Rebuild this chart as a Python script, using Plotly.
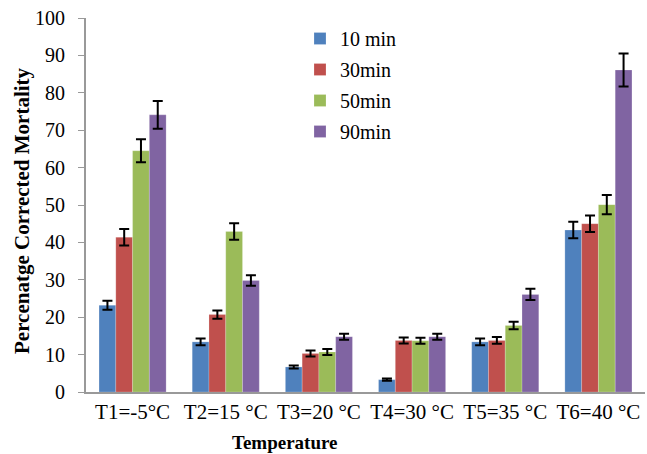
import plotly.graph_objects as go

categories = ["T1=-5°C", "T2=15 °C", "T3=20 °C", "T4=30 °C", "T5=35 °C", "T6=40 °C"]
series_names = ["10 min", "30min", "50min", "90min"]
colors = ["#4F81BD", "#C0504D", "#9BBB59", "#8064A2"]

v10 = [23.2, 13.4, 6.7, 3.3, 13.4, 43.3]
v30 = [41.4, 20.7, 10.3, 13.8, 13.8, 45.0]
v50 = [64.5, 42.9, 10.7, 13.7, 17.8, 50.1]
v90 = [74.1, 29.8, 14.8, 14.8, 26.1, 86.1]

e10 = [1.2, 0.9, 0.4, 0.3, 0.9, 2.2]
e30 = [2.2, 1.1, 0.8, 0.8, 0.9, 2.2]
e50 = [3.1, 2.2, 0.8, 0.8, 1.0, 2.6]
e90 = [3.7, 1.4, 0.8, 0.8, 1.5, 4.4]

values = [v10, v30, v50, v90]
errors = [e10, e30, e50, e90]

fig = go.Figure()
for i, name in enumerate(series_names):
    fig.add_trace(go.Bar(
        x=categories, y=values[i], name=name,
        marker=dict(color=colors[i], line=dict(color="rgba(255,255,255,0.4)", width=0.5)),
        error_y=dict(type="data", array=errors[i], color="black", thickness=2, width=5),
        legendgroup=name,
    ))

serif = "Liberation Serif"
L, R, T, B = 86, 2, 18, 62
W, H = 647, 454
pw = W - L - R
ph = H - T - B

fig.update_layout(
    width=W, height=H,
    margin=dict(l=L, r=R, t=T, b=B, autoexpand=False),
    paper_bgcolor="white", plot_bgcolor="white",
    barmode="group", bargap=0.28, bargroupgap=0,
    font=dict(family=serif, size=20, color="black"),
    showlegend=True,
    legend=dict(x=(300 - L) / pw, y=1.0 + (T - 19) / ph, xanchor="left", yanchor="top",
                font=dict(family=serif, size=20, color="black"),
                tracegroupgap=2, bgcolor="rgba(0,0,0,0)", itemwidth=30),
    xaxis=dict(showline=True, linecolor="#999999", linewidth=2, ticks="",
               tickfont=dict(family=serif, size=21), automargin=False),
    yaxis=dict(range=[0, 100], dtick=10, showgrid=False, zeroline=False,
               showline=True, linecolor="#999999", linewidth=2,
               ticks="outside", ticklen=6, tickcolor="#999999", tickwidth=1,
               ticklabelstandoff=9,
               tickfont=dict(family=serif, size=20), automargin=False),
    annotations=[
        dict(text="<b>Percenatge Corrected Mortality</b>", textangle=-90,
             xref="paper", yref="paper", x=(22 - L) / pw, y=(H - B - 211) / ph,
             xanchor="center", yanchor="middle", showarrow=False,
             font=dict(family=serif, size=21, color="black")),
        dict(text="<b>Temperature</b>",
             xref="paper", yref="paper", x=(285 - L) / pw, y=-(443 - (H - B)) / ph,
             xanchor="center", yanchor="middle", showarrow=False,
             font=dict(family=serif, size=19, color="black")),
    ],
)

fig.write_html("out.html", config={"displayModeBar": False},
               post_script="document.body.style.margin='0px';")
